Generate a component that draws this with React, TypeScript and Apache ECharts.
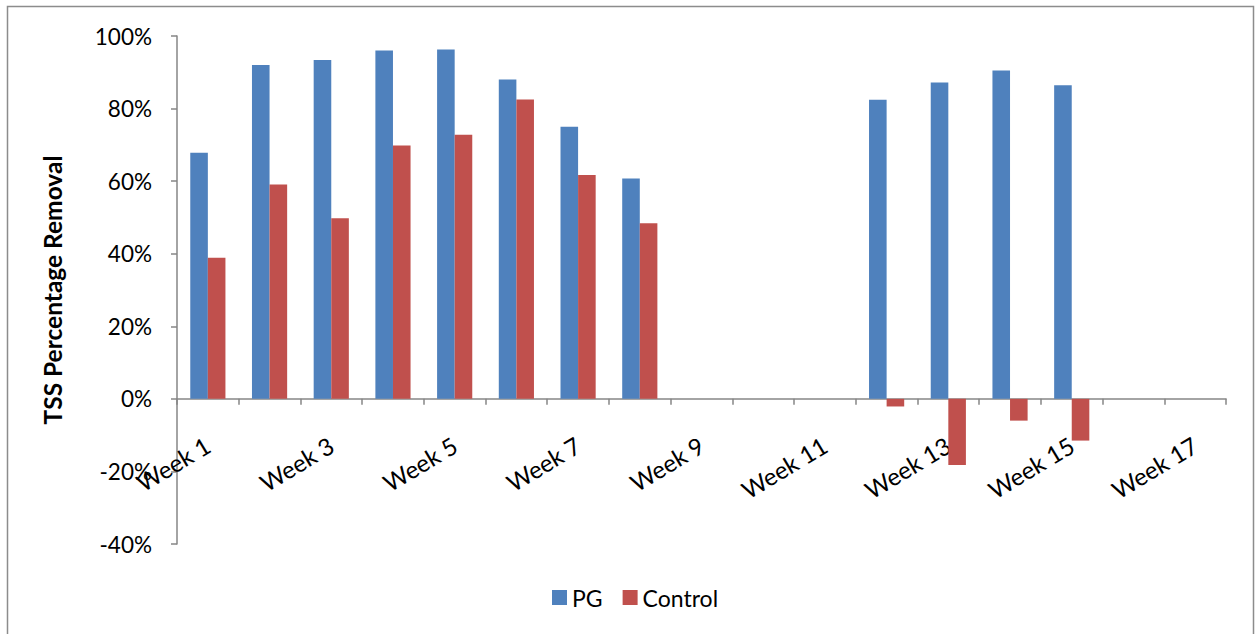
import React, { useEffect, useRef } from "react";
import * as echarts from "echarts";

// Weekly TSS removal for the PG system and the control (fractions of 1)
const weeks = [
  "Week 1", "Week 2", "Week 3", "Week 4", "Week 5", "Week 6", "Week 7", "Week 8", "Week 9",
  "Week 10", "Week 11", "Week 12", "Week 13", "Week 14", "Week 15", "Week 16", "Week 17",
];
const pgRemoval = [
  0.678, 0.92, 0.934, 0.96, 0.963, 0.88, 0.75, 0.607, null,
  null, null, 0.824, 0.872, 0.905, 0.864, null, null,
];
const controlRemoval = [
  0.389, 0.591, 0.498, 0.698, 0.728, 0.825, 0.617, 0.484, null,
  null, null, -0.021, -0.182, -0.06, -0.115, null, null,
];
const yTicks = { min: -0.4, max: 1, step: 0.2 };

const FONT = "Lato, 'Noto Sans', sans-serif";
const AXIS_GREY = "#868686";

const GRID = { left: 177, right: 31, top: 36, bottom: 90 };
const PLOT_HEIGHT = 634 - GRID.top - GRID.bottom;
// distance from the bottom of the plot up to the zero line
const ZERO_OFFSET = (PLOT_HEIGHT * -yTicks.min) / (yTicks.max - yTicks.min);

export default function App() {
  const ref = useRef<HTMLDivElement>(null);

  useEffect(() => {
    if (!ref.current) return;
    const chart = echarts.init(ref.current, undefined, { renderer: "svg" });
    chart.setOption({
      animation: false,
      backgroundColor: "#ffffff",
      textStyle: { fontFamily: FONT, color: "#000" },
      graphic: [
        {
          type: "rect",
          shape: { x: 7.5, y: 6.5, width: 1246, height: 700 },
          style: { fill: "none", stroke: "#8c8c8c", lineWidth: 1.5 },
          silent: true,
        },
      ],
      grid: GRID,
      legend: {
        data: ["PG", "Control"],
        left: 547,
        top: 581,
        itemWidth: 15,
        itemHeight: 15,
        itemGap: 20,
        icon: "rect",
        textStyle: { fontFamily: FONT, fontSize: 23, color: "#000" },
      },
      xAxis: {
        type: "category",
        data: weeks,
        boundaryGap: true,
        axisLine: { onZero: true, lineStyle: { color: AXIS_GREY, width: 1.5 } },
        axisTick: { show: true, interval: 0, length: 6, inside: false, lineStyle: { color: AXIS_GREY, width: 1.5 } },
        axisLabel: {
          interval: 1,
          rotate: 31,
          // labels hang just below the zero line
          margin: 44 - ZERO_OFFSET,
          fontFamily: FONT,
          fontSize: 24,
          color: "#000",
        },
        splitLine: { show: false },
      },
      yAxis: {
        type: "value",
        min: yTicks.min,
        max: yTicks.max,
        interval: yTicks.step,
        name: "TSS Percentage Removal",
        nameLocation: "middle",
        nameGap: 112,
        nameTextStyle: { fontFamily: FONT, fontSize: 24.5, fontWeight: "bold", color: "#000" },
        axisLine: { show: true, lineStyle: { color: AXIS_GREY, width: 1.5 } },
        axisTick: { show: true, length: 6, lineStyle: { color: AXIS_GREY, width: 1.5 } },
        axisLabel: {
          margin: 25,
          fontFamily: FONT,
          fontSize: 22.5,
          color: "#000",
          formatter: (v: number) => `${Math.round(v * 100)}%`,
        },
        splitLine: { show: false },
      },
      series: [
        {
          name: "PG",
          type: "bar",
          data: pgRemoval,
          barGap: "0%",
          barCategoryGap: "43%",
          itemStyle: { color: "#4F81BD" },
        },
        {
          name: "Control",
          type: "bar",
          data: controlRemoval,
          barGap: "0%",
          barCategoryGap: "43%",
          itemStyle: { color: "#C0504D" },
        },
      ],
    });
    return () => chart.dispose();
  }, []);

  return (
    <div
      ref={ref}
      style={{ position: "absolute", left: 0, top: 0, width: 1257, height: 634 }}
    />
  );
}
